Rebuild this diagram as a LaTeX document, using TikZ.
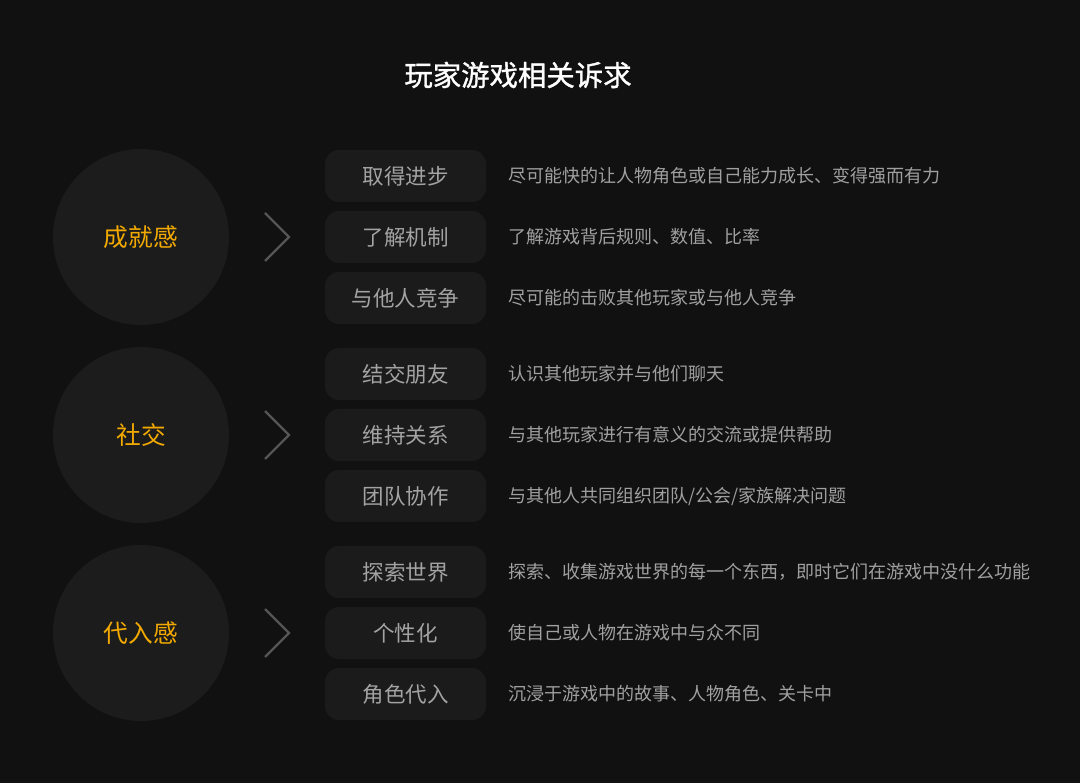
\documentclass[tikz,border=0pt]{standalone}
\usepackage{fontspec}
\setmainfont{Noto Sans CJK SC}
\newfontfamily\cjk{Noto Sans CJK SC}
\newfontfamily\cjktitle[FakeBold=1.2]{Noto Sans CJK SC}
\definecolor{bg}{HTML}{111111}
\definecolor{circfill}{HTML}{1C1C1C}
\definecolor{boxfill}{HTML}{1B1B1B}
\definecolor{orangetxt}{HTML}{F2A900}
\definecolor{boxtxt}{HTML}{A3A3A3}
\definecolor{desctxt}{HTML}{A0A0A0}
\definecolor{chev}{HTML}{555555}
\tikzset{
  catcircle/.style={circle, fill=circfill, minimum size=176pt, inner sep=0pt, text=orangetxt, font=\cjk\fontsize{24.7}{28}\selectfont},
  itembox/.style={rectangle, rounded corners=14pt, fill=boxfill, minimum width=161pt, minimum height=52pt, inner sep=0pt, text=boxtxt, font=\cjk\fontsize{21.5}{25}\selectfont},
  desc/.style={anchor=west, inner sep=0pt, text=desctxt, font=\cjk\fontsize{18}{21}\selectfont},
  chevline/.style={draw=chev, line width=2.2pt},
}
\begin{document}
\begin{tikzpicture}[x=1pt,y=-1pt]
\fill[bg] (0,0) rectangle (1080,783);
\useasboundingbox (0,0) rectangle (1080,783);
\node[text=white, font=\cjktitle\fontsize{28.4}{32}\selectfont] (title) at (518,75) {玩家游戏相关诉求};

% group 1
\node[catcircle] (c1) at (141,237) {成就感};
\coordinate (k1a) at (265,213); \coordinate (k1b) at (289,237); \coordinate (k1c) at (265,261);
\draw[chevline] (k1a) -- (k1b) -- (k1c);
\node[itembox] (b11) at (405.5,176) {取得进步};
\node[itembox] (b12) at (405.5,237) {了解机制};
\node[itembox] (b13) at (405.5,298) {与他人竞争};
\node[desc] (d11) at (508,176) {尽可能快的让人物角色或自己能力成长、变得强而有力};
\node[desc] (d12) at (508,237) {了解游戏背后规则、数值、比率};
\node[desc] (d13) at (508,298) {尽可能的击败其他玩家或与他人竞争};

% group 2
\node[catcircle] (c2) at (141,435) {社交};
\coordinate (k2a) at (265,411); \coordinate (k2b) at (289,435); \coordinate (k2c) at (265,459);
\draw[chevline] (k2a) -- (k2b) -- (k2c);
\node[itembox] (b21) at (405.5,374) {结交朋友};
\node[itembox] (b22) at (405.5,435) {维持关系};
\node[itembox] (b23) at (405.5,496) {团队协作};
\node[desc] (d21) at (508,374) {认识其他玩家并与他们聊天};
\node[desc] (d22) at (508,435) {与其他玩家进行有意义的交流或提供帮助};
\node[desc] (d23) at (508,496) {与其他人共同组织团队/公会/家族解决问题};

% group 3
\node[catcircle] (c3) at (141,633) {代入感};
\coordinate (k3a) at (265,609); \coordinate (k3b) at (289,633); \coordinate (k3c) at (265,657);
\draw[chevline] (k3a) -- (k3b) -- (k3c);
\node[itembox] (b31) at (405.5,572) {探索世界};
\node[itembox] (b32) at (405.5,633) {个性化};
\node[itembox] (b33) at (405.5,694) {角色代入};
\node[desc] (d31) at (508,572) {探索、收集游戏世界的每一个东西，即时它们在游戏中没什么功能};
\node[desc] (d32) at (508,633) {使自己或人物在游戏中与众不同};
\node[desc] (d33) at (508,694) {沉浸于游戏中的故事、人物角色、关卡中};
\end{tikzpicture}
\end{document}
